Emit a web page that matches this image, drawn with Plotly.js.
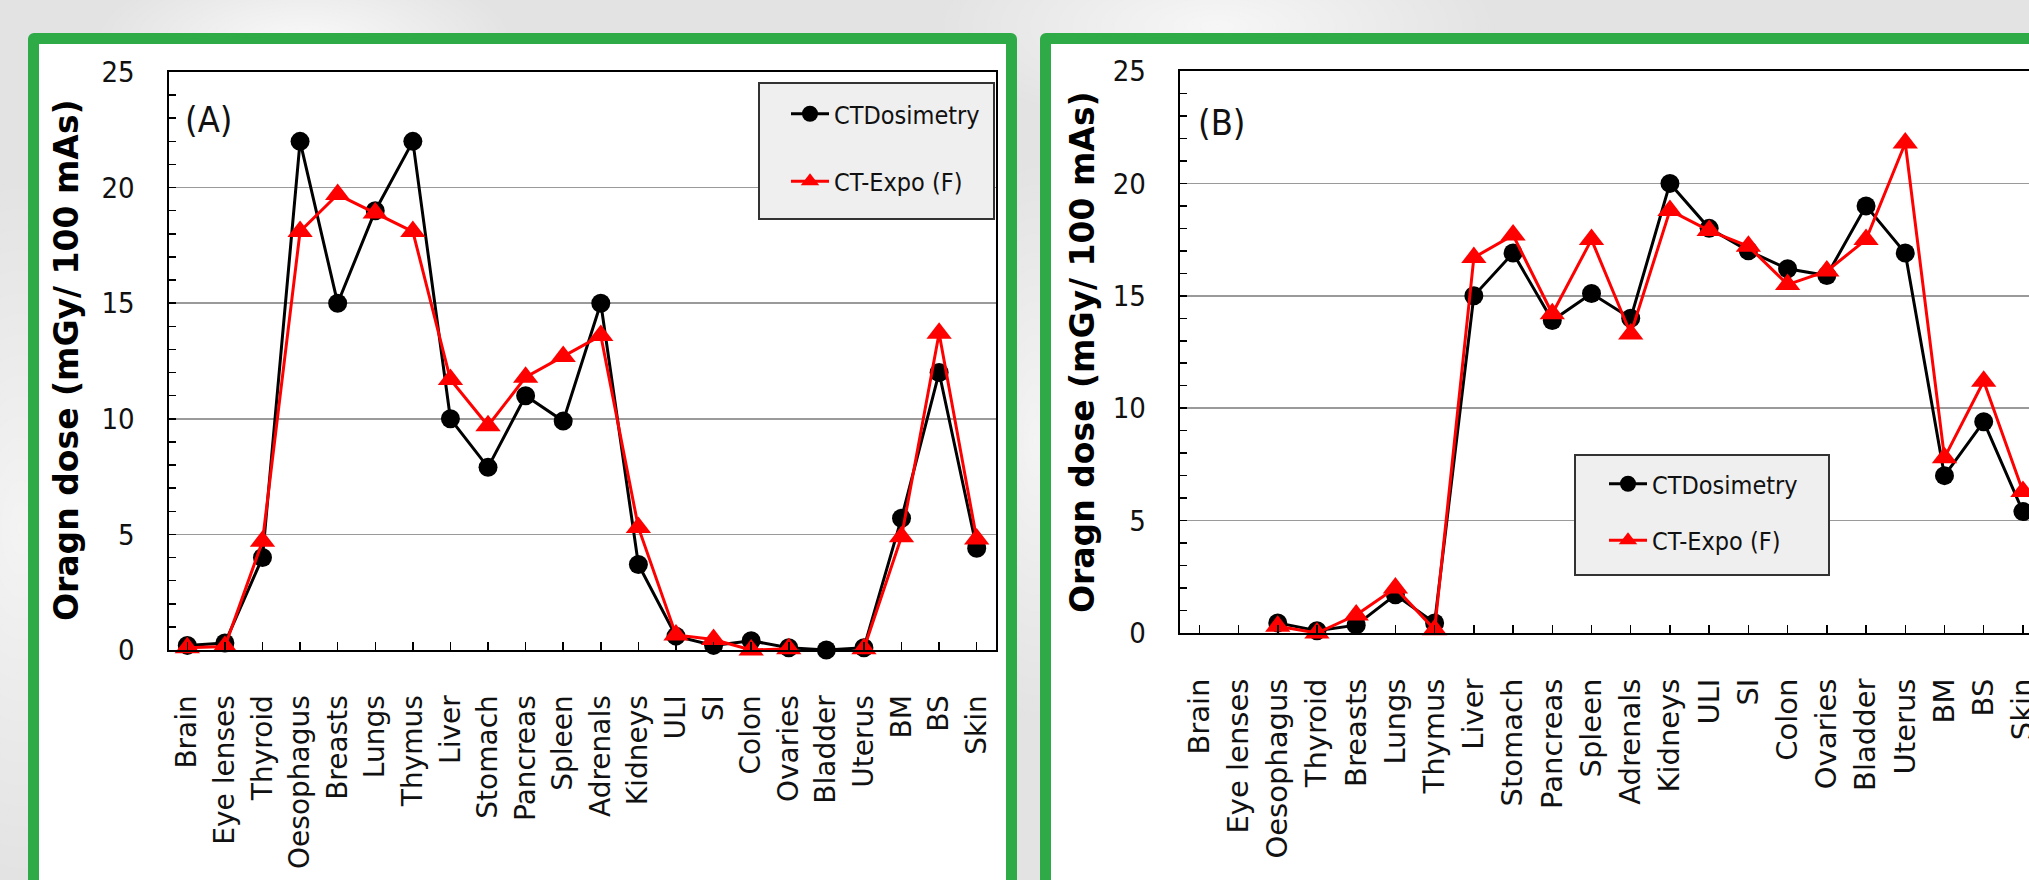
<!DOCTYPE html>
<html>
<head>
<meta charset="utf-8">
<script src="https://cdn.plot.ly/plotly-3.0.1.min.js"></script>
<style>
  html, body { margin:0; padding:0; width:2029px; height:880px; overflow:hidden; }
  body {
    background:
      radial-gradient(ellipse 300px 120px at 15% 5%, rgba(255,255,255,0.8), rgba(255,255,255,0) 70%),
      radial-gradient(ellipse 400px 150px at 60% 3%, rgba(255,255,255,0.7), rgba(255,255,255,0) 70%),
      radial-gradient(ellipse 200px 500px at 1% 60%, rgba(255,255,255,0.6), rgba(255,255,255,0) 70%),
      radial-gradient(ellipse 120px 400px at 51% 50%, rgba(255,255,255,0.6), rgba(255,255,255,0) 70%),
      #e3e3e3;
  }
  .panel { position:absolute; box-sizing:border-box; border:11px solid #2eab47; border-radius:6px; background:#ffffff; }
  #pa { left:28px; top:33px; width:989px; height:900px; }
  #pb { left:1040px; top:33px; width:1100px; height:900px; }
  #chart { position:absolute; left:0; top:0; width:2029px; height:880px; }
</style>
</head>
<body>
<div class="panel" id="pa"></div>
<div class="panel" id="pb"></div>
<div id="chart"></div>
<script>
// ---- Data ----
const organsA = ['Brain','Eye lenses','Thyroid','Oesophagus','Breasts','Lungs','Thymus','Liver','Stomach','Pancreas','Spleen','Adrenals','Kidneys','ULI','SI','Colon','Ovaries','Bladder','Uterus','BM','BS','Skin'];
const ctdosimetryA = [0.2, 0.3, 4.0, 22.0, 15.0, 19.0, 22.0, 10.0, 7.9, 11.0, 9.9, 15.0, 3.7, 0.6, 0.2, 0.4, 0.1, 0.0, 0.1, 5.7, 12.0, 4.4];
const ctexpoA     = [0.1, 0.15, 4.7, 18.1, 19.7, 18.9, 18.1, 11.7, 9.7, 11.8, 12.7, 13.6, 5.3, 0.65, 0.45, 0.0, 0.05, null, 0.05, 4.9, 13.7, 4.8];

const organsB = ['Brain','Eye lenses','Oesophagus','Thyroid','Breasts','Lungs','Thymus','Liver','Stomach','Pancreas','Spleen','Adrenals','Kidneys','ULI','SI','Colon','Ovaries','Bladder','Uterus','BM','BS','Skin'];
const ctdosimetryB = [null, null, 0.45, 0.1, 0.35, 1.7, 0.45, 15.0, 16.9, 13.9, 15.1, 14.0, 20.0, 18.0, 17.0, 16.2, 15.9, 19.0, 16.9, 7.0, 9.4, 5.4];
const ctexpoB     = [null, null, 0.3, 0.0, 0.8, 2.0, 0.15, 16.7, 17.7, 14.2, 17.5, 13.3, 18.8, 17.9, 17.2, 15.5, 16.1, 17.5, 21.8, 7.8, 11.2, 6.3];

const seriesNames = ['CTDosimetry', 'CT-Expo (F)'];
const yTickVals = [0, 5, 10, 15, 20, 25];
const panelLabels = ['(A)', '(B)'];
const yTitle = 'Oragn dose (mGy/ 100 mAs)';

// ---- Layout helpers ----
const W = 2029, H = 880;
const px = x => x / W;
const py = y => 1 - y / H;
const NARROW = "'Liberation Sans Narrow', 'Arial Narrow', 'DejaVu Sans Condensed', sans-serif";
const SANS = "'DejaVu Sans', Verdana, sans-serif";

function mk(x, y, name, isRed, xa, ya, lg, grp) {
  return {
    x: x, y: y, name: name, type: 'scatter', mode: 'lines+markers',
    line: { color: isRed ? '#ff0000' : '#000000', width: 3 },
    marker: isRed ? { symbol: 'triangle-up', size: 22, color: '#ff0000' }
                  : { symbol: 'circle', size: 19, color: '#000000' },
    xaxis: xa, yaxis: ya, legend: lg, legendgroup: grp, cliponaxis: false,
    connectgaps: false, hoverinfo: 'x+y+name'
  };
}

const traces = [
  mk(organsA, ctdosimetryA, seriesNames[0], false, 'x', 'y', 'legend', 'a1'),
  mk(organsA, ctexpoA, seriesNames[1], true, 'x', 'y', 'legend', 'a2'),
  mk(organsB, ctdosimetryB, seriesNames[0], false, 'x2', 'y2', 'legend2', 'b1'),
  mk(organsB, ctexpoB, seriesNames[1], true, 'x2', 'y2', 'legend2', 'b2')
];

function xax(domain, cats, range, fs) {
  return {
    domain: domain, type: 'category', categoryorder: 'array', categoryarray: cats,
    range: range, ticks: 'inside', ticklen: 8, tickwidth: 1.5, tickcolor: '#000',
    showline: true, linecolor: '#000', linewidth: 2, mirror: true, showgrid: false,
    tickangle: -90, tickfont: { family: SANS, size: fs, color: '#111' },
    ticklabelstandoff: 32, fixedrange: true, automargin: false
  };
}
function yax(domain, mirror) {
  return {
    domain: domain, range: [0, 25], tickvals: yTickVals, ticktext: yTickVals.map(String),
    ticks: 'inside', ticklen: 7, tickwidth: 1.5, tickcolor: '#000',
    showgrid: true, gridcolor: '#9a9a9a', gridwidth: 1.5, zeroline: false,
    showline: true, linecolor: '#000', linewidth: 2, mirror: mirror,
    tickfont: { family: NARROW, size: 29, color: '#111' }, ticklabelstandoff: 26,
    minor: { dtick: 1, tick0: 0, ticks: 'inside', ticklen: 7, tickwidth: 1.5, tickcolor: '#000', showgrid: false },
    fixedrange: true, automargin: false
  };
}

const layout = {
  width: W, height: H,
  margin: { l: 0, r: 0, t: 0, b: 0, pad: 0 },
  paper_bgcolor: 'rgba(0,0,0,0)', plot_bgcolor: '#ffffff',
  showlegend: true,
  xaxis: Object.assign(xax([px(168.5), px(995.5)], organsA, [-0.5, 21.5], 28), { anchor: 'y' }),
  yaxis: Object.assign(yax([py(650), py(72)], true), { anchor: 'x' }),
  xaxis2: Object.assign(xax([px(1179.7), 1], organsB, [-0.5, 21.155], 29), { anchor: 'y2' }),
  yaxis2: Object.assign(yax([py(633), py(71)], false), { anchor: 'x2' }),
  shapes: [
    { type: 'rect', xref: 'paper', yref: 'paper', x0: px(759), x1: px(994), y0: py(219), y1: py(83),
      fillcolor: '#efefef', line: { color: '#333', width: 2 }, layer: 'above' },
    { type: 'rect', xref: 'paper', yref: 'paper', x0: px(1575), x1: px(1829), y0: py(575), y1: py(455),
      fillcolor: '#efefef', line: { color: '#333', width: 2 }, layer: 'above' }
  ],
  legend: {
    x: px(786), y: py(91), xanchor: 'left', yanchor: 'top', bgcolor: 'rgba(0,0,0,0)', borderwidth: 0,
    font: { family: NARROW, size: 25, color: '#111' }, tracegroupgap: 32, itemwidth: 38, traceorder: 'grouped'
  },
  legend2: {
    x: px(1604), y: py(461), xanchor: 'left', yanchor: 'top', bgcolor: 'rgba(0,0,0,0)', borderwidth: 0,
    font: { family: NARROW, size: 25, color: '#111' }, tracegroupgap: 21, itemwidth: 38, traceorder: 'grouped'
  },
  annotations: [
    { text: '<b>' + yTitle + '</b>', xref: 'paper', yref: 'paper', x: px(66), y: py(360), textangle: -90,
      showarrow: false, xanchor: 'center', yanchor: 'middle', font: { family: SANS, size: 33, color: '#000' } },
    { text: '<b>' + yTitle + '</b>', xref: 'paper', yref: 'paper', x: px(1082), y: py(352), textangle: -90,
      showarrow: false, xanchor: 'center', yanchor: 'middle', font: { family: SANS, size: 33, color: '#000' } },
    { text: panelLabels[0], xref: 'paper', yref: 'paper', x: px(208), y: py(120), showarrow: false,
      xanchor: 'center', yanchor: 'middle', font: { family: NARROW, size: 36, color: '#111' } },
    { text: panelLabels[1], xref: 'paper', yref: 'paper', x: px(1222), y: py(122), showarrow: false,
      xanchor: 'center', yanchor: 'middle', font: { family: NARROW, size: 36, color: '#111' } }
  ]
};

Plotly.newPlot('chart', traces, layout, { staticPlot: true, displayModeBar: false, responsive: false });
</script>
</body>
</html>
